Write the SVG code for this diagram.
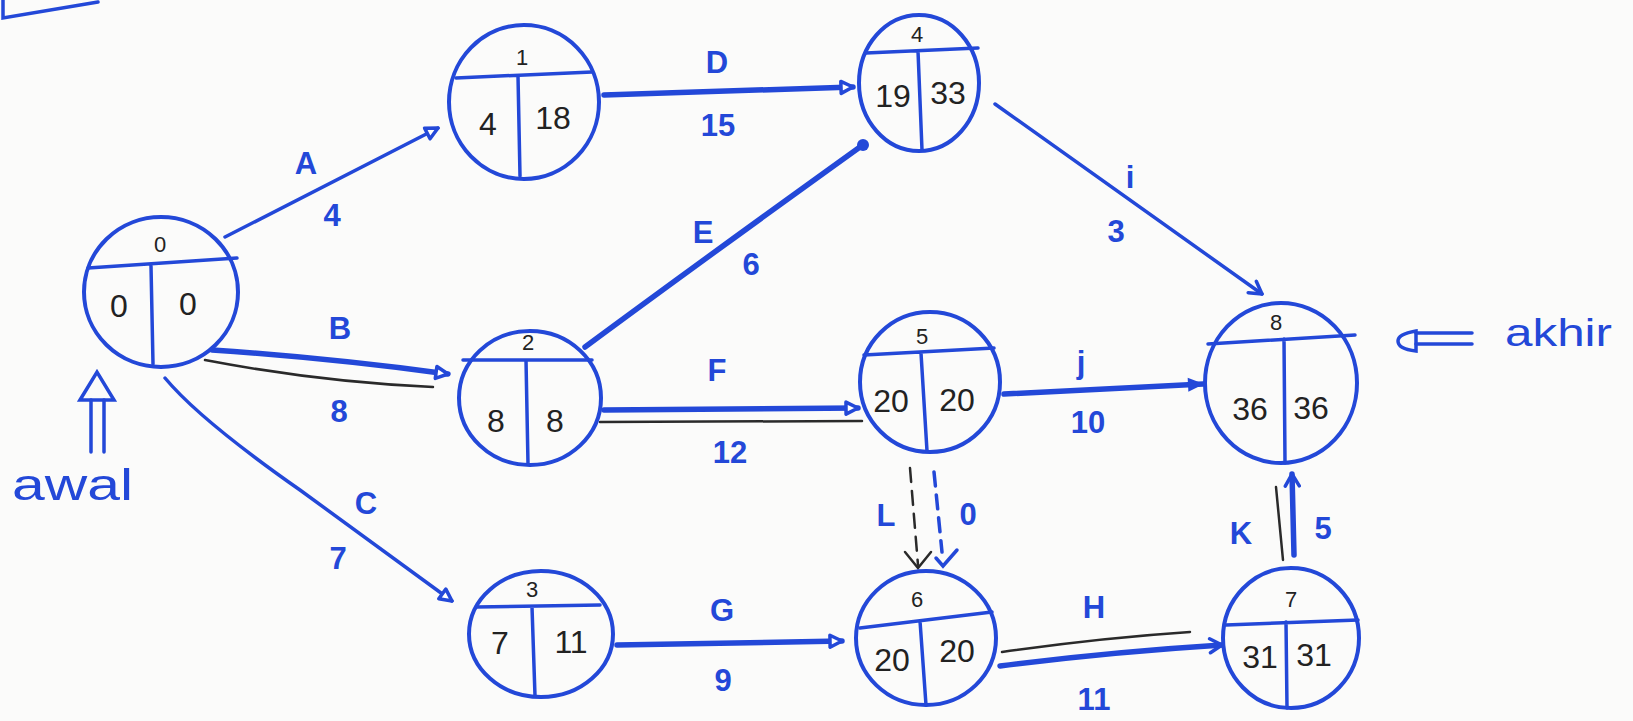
<svg xmlns="http://www.w3.org/2000/svg" width="1633" height="721" viewBox="0 0 1633 721">
<style>
.bg{fill:#fbfbfa}
.node{fill:none;stroke:#2348d8;stroke-width:4}
.div{fill:none;stroke:#2348d8;stroke-width:3.5;stroke-linecap:round}
.e{fill:none;stroke:#2348d8;stroke-width:3.5;stroke-linecap:round}
.thick{stroke-width:5.5}
.blk{fill:none;stroke:#2a2a2a;stroke-width:2.5;stroke-linecap:round}
.dash{stroke-dasharray:14 9}
.lbl{font-family:"Liberation Sans",Arial,sans-serif;font-size:31px;font-weight:bold;fill:#2348d8;text-anchor:middle;dominant-baseline:central}
.num{font-family:"Liberation Sans",Arial,sans-serif;font-size:32px;fill:#222;text-anchor:middle;dominant-baseline:central}
.idx{font-family:"Liberation Sans",Arial,sans-serif;font-size:22px;fill:#222;text-anchor:middle;dominant-baseline:central}
.note{font-family:"Liberation Sans",Arial,sans-serif;fill:#2348d8}
</style>
<defs>
<marker id="tri" viewBox="0 0 18 18" refX="15" refY="9" markerWidth="18" markerHeight="18" markerUnits="userSpaceOnUse" orient="auto">
<path d="M3,3 L15,9 L3,15 Z" fill="#fff" stroke="#2348d8" stroke-width="3.5" stroke-linejoin="round"/>
</marker>
<marker id="solid" viewBox="0 0 18 16" refX="16" refY="8" markerWidth="18" markerHeight="16" markerUnits="userSpaceOnUse" orient="auto">
<path d="M1,1 L17,8 L1,15 Z" fill="#2348d8"/>
</marker>
<marker id="chev" viewBox="0 0 18 18" refX="15" refY="9" markerWidth="18" markerHeight="18" markerUnits="userSpaceOnUse" orient="auto">
<path d="M3,2 L15,9 L3,16" fill="none" stroke="#2348d8" stroke-width="3.5" stroke-linecap="round" stroke-linejoin="round"/>
</marker>
</defs>
<rect class="bg" x="0" y="0" width="1633" height="721"/>

<path class="e" d="M3,0 L3,18 L98,2"/>

<g id="connectors">
<path class="e" d="M225,237 L438,128" marker-end="url(#tri)"/>
<path class="e thick" d="M212,350 Q330,358 448,374" marker-end="url(#tri)"/>
<path class="blk" d="M205,360 Q320,382 433,387"/>
<path class="e" d="M165,378 Q200,420 300,490 L452,601" marker-end="url(#tri)"/>
<path class="e thick" d="M604,95 L853,87" marker-end="url(#tri)"/>
<path class="e thick" d="M585,347 Q700,262 860,147"/>
<circle cx="863" cy="145" r="6" fill="#2348d8"/>
<path class="e thick" d="M604,410 L858,408" marker-end="url(#tri)"/>
<path class="blk" d="M600,422 L862,421"/>
<path class="e" d="M995,104 L1262,294" marker-end="url(#chev)"/>
<path class="e thick" d="M1004,394 L1203,384" marker-end="url(#solid)"/>
<path class="blk dash" d="M910,468 L918,565"/>
<path class="blk" d="M905,552 L918,568 L931,552"/>
<path class="e dash" d="M934,472 L942,552"/>
<path class="e" d="M936,558 L943,566 L957,550"/>
<path class="e thick" d="M617,645 L842,641" marker-end="url(#tri)"/>
<path class="e thick" d="M1000,666 Q1110,652 1222,645" marker-end="url(#chev)"/>
<path class="blk" d="M1002,652 Q1100,638 1190,632"/>
<path class="e thick" d="M1294,555 L1292,474" marker-end="url(#chev)"/>
<path class="blk" d="M1276,487 L1283,560"/>
</g>

<g id="edge-labels">
<text class="lbl" x="306" y="163">A</text><text class="lbl" x="332" y="215">4</text>
<text class="lbl" x="340" y="328">B</text><text class="lbl" x="339" y="411">8</text>
<text class="lbl" x="366" y="503">C</text><text class="lbl" x="338" y="558">7</text>
<text class="lbl" x="717" y="62">D</text><text class="lbl" x="718" y="125">15</text>
<text class="lbl" x="703" y="232">E</text><text class="lbl" x="751" y="264">6</text>
<text class="lbl" x="717" y="370">F</text><text class="lbl" x="730" y="452">12</text>
<text class="lbl" x="1130" y="177">i</text><text class="lbl" x="1116" y="231">3</text>
<text class="lbl" x="1081" y="362">j</text><text class="lbl" x="1088" y="422">10</text>
<text class="lbl" x="722" y="610">G</text><text class="lbl" x="723" y="680">9</text>
<text class="lbl" x="1094" y="607">H</text><text class="lbl" x="1094" y="699">11</text>
<text class="lbl" x="1241" y="533">K</text><text class="lbl" x="1323" y="528">5</text>
<text class="lbl" x="886" y="515">L</text><text class="lbl" x="968" y="514">0</text>
</g>

<g id="node0">
<ellipse class="node" cx="161" cy="292" rx="77" ry="75"/>
<path class="div" d="M88,268 L237,258 M151,266 L153,364"/>
<text class="idx" x="160" y="244">0</text>
<text class="num" x="119" y="306">0</text>
<text class="num" x="188" y="304">0</text>
</g>
<g id="node1">
<ellipse class="node" cx="524" cy="102" rx="75" ry="77"/>
<path class="div" d="M456,78 L592,72 M518,76 L520,176"/>
<text class="idx" x="522" y="57">1</text>
<text class="num" x="488" y="124">4</text>
<text class="num" x="553" y="118">18</text>
</g>
<g id="node2">
<ellipse class="node" cx="530" cy="398" rx="71" ry="67"/>
<path class="div" d="M463,360 L592,360 M526,360 L528,464"/>
<text class="idx" x="528" y="342">2</text>
<text class="num" x="496" y="421">8</text>
<text class="num" x="555" y="421">8</text>
</g>
<g id="node3">
<ellipse class="node" cx="541" cy="634" rx="72" ry="63"/>
<path class="div" d="M476,607 L600,605 M532,607 L535,696"/>
<text class="idx" x="532" y="589">3</text>
<text class="num" x="500" y="643">7</text>
<text class="num" x="571" y="642">11</text>
</g>
<g id="node4">
<ellipse class="node" cx="919" cy="83" rx="60" ry="68"/>
<path class="div" d="M866,53 L978,48 M918,51 L922,150"/>
<text class="idx" x="917" y="34">4</text>
<text class="num" x="893" y="96">19</text>
<text class="num" x="948" y="93">33</text>
</g>
<g id="node5">
<ellipse class="node" cx="930" cy="382" rx="70" ry="70"/>
<path class="div" d="M864,355 L994,348 M921,353 L927,451"/>
<text class="idx" x="922" y="336">5</text>
<text class="num" x="891" y="401">20</text>
<text class="num" x="957" y="400">20</text>
</g>
<g id="node6">
<ellipse class="node" cx="926" cy="638" rx="70" ry="67"/>
<path class="div" d="M860,628 L992,612 M920,621 L926,705"/>
<text class="idx" x="917" y="599">6</text>
<text class="num" x="892" y="660">20</text>
<text class="num" x="957" y="651">20</text>
</g>
<g id="node7">
<ellipse class="node" cx="1291" cy="638" rx="68" ry="70"/>
<path class="div" d="M1226,625 L1358,620 M1286,622 L1287,708"/>
<text class="idx" x="1291" y="599">7</text>
<text class="num" x="1260" y="657">31</text>
<text class="num" x="1314" y="655">31</text>
</g>
<g id="node8">
<ellipse class="node" cx="1281" cy="383" rx="76" ry="80"/>
<path class="div" d="M1208,344 L1355,335 M1284,339 L1285,463"/>
<text class="idx" x="1276" y="322">8</text>
<text class="num" x="1250" y="409">36</text>
<text class="num" x="1311" y="408">36</text>
</g>

<g id="awal">
<path class="e" d="M80,400 L97,372 L114,400 Z"/>
<path class="e" d="M91,400 L91,452 M104,400 L104,452"/>
<text class="note" x="12" y="500" font-size="44" textLength="121" lengthAdjust="spacingAndGlyphs">awal</text>
</g>
<g id="akhir">
<path class="e" d="M1416,331 Q1398,334 1398,341 Q1398,349 1416,351 Z"/>
<path class="e" d="M1416,333 L1472,333 M1416,344 L1472,344"/>
<text class="note" x="1505" y="346" font-size="38" textLength="107" lengthAdjust="spacingAndGlyphs">akhir</text>
</g>
</svg>
